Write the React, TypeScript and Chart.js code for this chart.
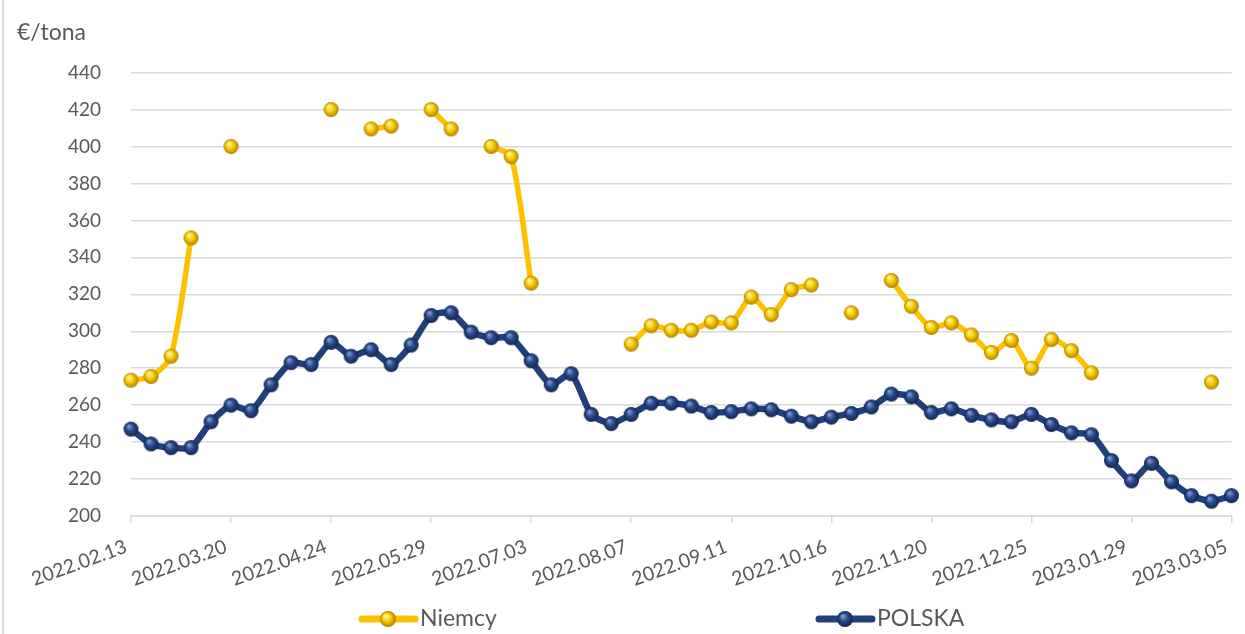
import React, { useEffect, useRef } from 'react';
import { Chart, registerables } from 'chart.js';

Chart.register(...registerables);

// ---- data ----
const weeks: string[] = [
  '2022.02.13', '2022.02.20', '2022.02.27', '2022.03.06', '2022.03.13',
  '2022.03.20', '2022.03.27', '2022.04.03', '2022.04.10', '2022.04.17',
  '2022.04.24', '2022.05.01', '2022.05.08', '2022.05.15', '2022.05.22',
  '2022.05.29', '2022.06.05', '2022.06.12', '2022.06.19', '2022.06.26',
  '2022.07.03', '2022.07.10', '2022.07.17', '2022.07.24', '2022.07.31',
  '2022.08.07', '2022.08.14', '2022.08.21', '2022.08.28', '2022.09.04',
  '2022.09.11', '2022.09.18', '2022.09.25', '2022.10.02', '2022.10.09',
  '2022.10.16', '2022.10.23', '2022.10.30', '2022.11.06', '2022.11.13',
  '2022.11.20', '2022.11.27', '2022.12.04', '2022.12.11', '2022.12.18',
  '2022.12.25', '2023.01.01', '2023.01.08', '2023.01.15', '2023.01.22',
  '2023.01.29', '2023.02.05', '2023.02.12', '2023.02.19', '2023.02.26',
  '2023.03.05',
];

const tickLabels: string[] = [
  '2022.02.13', '2022.03.20', '2022.04.24', '2022.05.29', '2022.07.03', '2022.08.07',
  '2022.09.11', '2022.10.16', '2022.11.20', '2022.12.25', '2023.01.29', '2023.03.05',
];

const niemcy: (number | null)[] = [
  273.5, 275.5, 286.5, 350.5, null, 400, null, null, null, null,
  420, null, 409.5, 411, null, 420, 409.5, null, 400, 394.5,
  326, null, null, null, null, 293, 303, 300.5, 300.5, 305,
  304.5, 318.5, 309, 322.5, 325, null, 310, null, 327.5, 313.5,
  302, 304.5, 298, 288.5, 295, 280, 295.5, 289.5, 277.5, null,
  null, null, null, null, 272.5, null,
];

const polska: number[] = [
  247, 239, 237, 237, 251, 260, 257, 271, 283, 282,
  294, 286.5, 290, 282, 292.5, 308.5, 310, 299.5, 296.5, 296.5,
  284, 271, 277, 255, 250, 255, 261, 261, 259.5, 256,
  256.5, 258, 257.5, 254, 251, 253.5, 255.5, 259, 266, 264.5,
  256, 258, 254.5, 252, 251, 255, 249.5, 245, 244, 230,
  219, 228.5, 218.5, 211, 208, 211,
];

const seriesNames: string[] = ['Niemcy', 'POLSKA'];
const unitLabel = '€/tona';
const yMin = 200;
const yMax = 440;
const yStep = 20;

// ---- styles ----
const GOLD = '#FFC000';
const NAVY = '#213F7A';
const TEXT = '#595959';
const GRID = '#D9D9D9';
const FONT = 'Lato, "Open Sans", sans-serif';

function sphere(r: number, light: string, mid: string, dark: string): HTMLCanvasElement {
  const c = document.createElement('canvas');
  const s = Math.ceil(r * 2) + 2;
  c.width = s;
  c.height = s;
  const g = c.getContext('2d')!;
  const cx = s / 2;
  const cy = s / 2;
  const grad = g.createRadialGradient(cx - r * 0.3, cy - r * 0.4, r * 0.08, cx, cy, r);
  grad.addColorStop(0, light);
  grad.addColorStop(0.45, mid);
  grad.addColorStop(1, dark);
  g.fillStyle = grad;
  g.beginPath();
  g.arc(cx, cy, r, 0, Math.PI * 2);
  g.fill();
  return c;
}

export default function App() {
  const ref = useRef<HTMLCanvasElement | null>(null);

  useEffect(() => {
    if (!ref.current) return;
    const goldBall = sphere(7.5, '#FFF6B0', '#FFD000', '#B07F00');
    const navyBall = sphere(7.5, '#7E9BD6', '#2B4C8E', '#13264F');
    const goldBallL = sphere(8, '#FFF6B0', '#FFD000', '#B07F00');
    const navyBallL = sphere(8, '#7E9BD6', '#2B4C8E', '#13264F');

    const legendPlugin = {
      id: 'bottomLegend',
      afterDraw(chart: any) {
        const ctx = chart.ctx as CanvasRenderingContext2D;
        const y = 619;
        const items = [
          { x: 359, color: GOLD, ball: goldBallL, text: seriesNames[0] },
          { x: 816, color: NAVY, ball: navyBallL, text: seriesNames[1] },
        ];
        ctx.save();
        items.forEach((it) => {
          ctx.strokeStyle = it.color;
          ctx.lineWidth = 7;
          ctx.lineCap = 'round';
          ctx.beginPath();
          ctx.moveTo(it.x + 3, y);
          ctx.lineTo(it.x + 56, y);
          ctx.stroke();
          ctx.drawImage(it.ball, it.x + 29 - it.ball.width / 2, y - it.ball.height / 2);
          ctx.fillStyle = TEXT;
          ctx.font = `23px ${FONT}`;
          ctx.textAlign = 'left';
          ctx.textBaseline = 'middle';
          ctx.fillText(it.text, it.x + 61, y);
        });
        ctx.restore();
      },
    };

    const chart = new Chart(ref.current, {
      type: 'line',
      data: {
        labels: weeks,
        datasets: [
          {
            label: seriesNames[0],
            data: niemcy,
            borderColor: GOLD,
            backgroundColor: GOLD,
            borderWidth: 5.5,
            pointStyle: goldBall as any,
            pointRadius: 7,
            tension: 0.25,
            spanGaps: false,
            clip: false as any,
          },
          {
            label: seriesNames[1],
            data: polska,
            borderColor: NAVY,
            backgroundColor: NAVY,
            borderWidth: 6.5,
            pointStyle: navyBall as any,
            pointRadius: 7,
            tension: 0.2,
            clip: false as any,
          },
        ],
      },
      options: {
        animation: false,
        responsive: false,
        maintainAspectRatio: false,
        layout: { padding: { left: 17, right: 13, top: 0, bottom: 38 } },
        plugins: {
          legend: { display: false },
          tooltip: { enabled: false },
          title: {
            display: true,
            text: unitLabel,
            align: 'start',
            color: TEXT,
            font: { family: FONT, size: 23, weight: 'normal' },
            padding: { top: 19, bottom: 26 },
          },
        },
        scales: {
          x: {
            offset: false,
            grid: {
              drawOnChartArea: false,
              drawTicks: true,
              tickLength: 7,
              lineWidth: 1.5,
              color: (c: any) => (tickLabels.includes(weeks[c.index]) ? GRID : 'rgba(0,0,0,0)'),
            },
            border: { display: true, color: GRID, width: 1.5 },
            ticks: {
              autoSkip: false,
              minRotation: 20,
              maxRotation: 20,
              padding: 12,
              labelOffset: -5,
              color: TEXT,
              font: { family: FONT, size: 19.5 },
              callback: (_v: any, i: number) => (tickLabels.includes(weeks[i]) ? weeks[i] : ''),
            },
            afterFit: (s: any) => {
              s.height = 80;
              s.paddingLeft = 0;
              s.paddingRight = 0;
            },
          },
          y: {
            min: yMin,
            max: yMax,
            border: { display: false },
            grid: { color: GRID, lineWidth: 1.5, drawTicks: false },
            ticks: {
              stepSize: yStep,
              padding: 30,
              color: TEXT,
              font: { family: FONT, size: 19 },
            },
            afterFit: (s: any) => {
              s.width = 114;
            },
          },
        },
      },
      plugins: [legendPlugin],
    });
    return () => chart.destroy();
  }, []);

  return (
    <div
      style={{
        position: 'fixed',
        left: 0,
        top: 0,
        width: 1245,
        height: 634,
        background: '#fff',
        overflow: 'hidden',
      }}
    >
      <div style={{ position: 'absolute', left: 2, top: 0, width: 2, height: 634, background: GRID }} />
      <canvas ref={ref} width={1245} height={634} style={{ display: 'block', width: 1245, height: 634 }} />
    </div>
  );
}
